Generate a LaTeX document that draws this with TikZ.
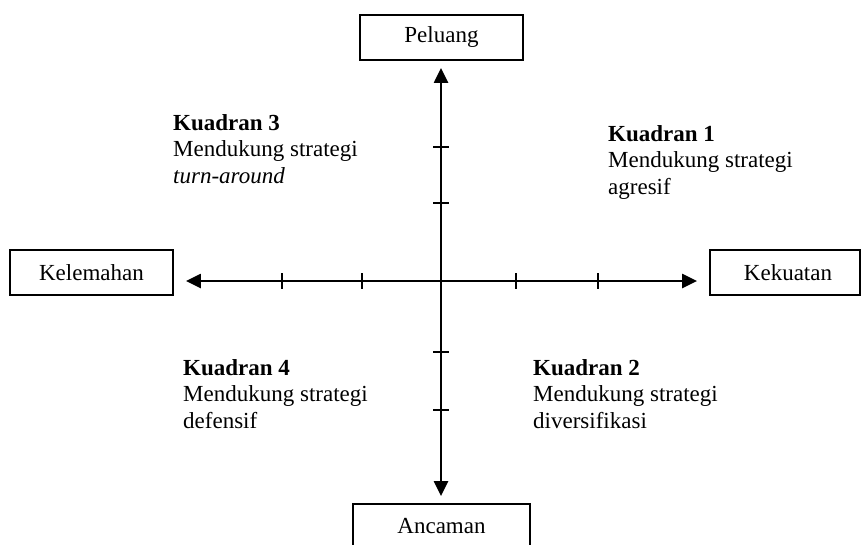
\documentclass[tikz,border=0pt]{standalone}
\usepackage{fontspec}
\setmainfont{Liberation Serif}
\usetikzlibrary{arrows.meta}
\begin{document}
\begin{tikzpicture}[x=1pt,y=-1pt,
  box/.style={draw,line width=1.8pt,minimum height=45pt,inner sep=0pt,
    font=\fontsize{23}{26.5}\selectfont},
  axis/.style={line width=2.3pt,-{Triangle[length=15pt,width=14pt]}},
  tick/.style={line width=1.6pt},
  quad/.style={anchor=north west,inner sep=0pt,align=left,
    font=\fontsize{23}{26.5}\selectfont}]
\useasboundingbox (0,0) rectangle (861,544);
\node[box,minimum width=163pt] (pel) at (441.5,37.5) {Peluang};
\node[box,minimum width=177pt] (anc) at (441.5,526.5) {Ancaman};
\node[box,minimum width=163pt] (kel) at (91.5,272.5) {Kelemahan};
\node[box,minimum width=150pt] (kek) at (785,272.5) {\hspace*{6pt}Kekuatan};
\coordinate (o) at (441,281);
\draw[axis,shorten >=7pt] (o) -- (o |- pel.south);
\draw[axis,shorten >=7pt] (o) -- (o |- anc.north);
\draw[axis,shorten >=12pt] (o) -- (o -| kel.east);
\draw[axis,shorten >=12pt] (o) -- (o -| kek.west);
\foreach \x in {282,362,516,598} \draw[tick] (\x,273) -- (\x,289);
\foreach \y in {147,203,352,410} \draw[tick] (433,\y) -- (449,\y);
\node[quad] (q3) at (173,114) {\textbf{Kuadran 3}\\Mendukung strategi\\\textit{turn-around}};
\node[quad] (q1) at (608,125) {\textbf{Kuadran 1}\\Mendukung strategi\\agresif};
\node[quad] (q4) at (183,359) {\textbf{Kuadran 4}\\Mendukung strategi\\defensif};
\node[quad] (q2) at (533,359) {\textbf{Kuadran 2}\\Mendukung strategi\\diversifikasi};
\end{tikzpicture}
\end{document}
